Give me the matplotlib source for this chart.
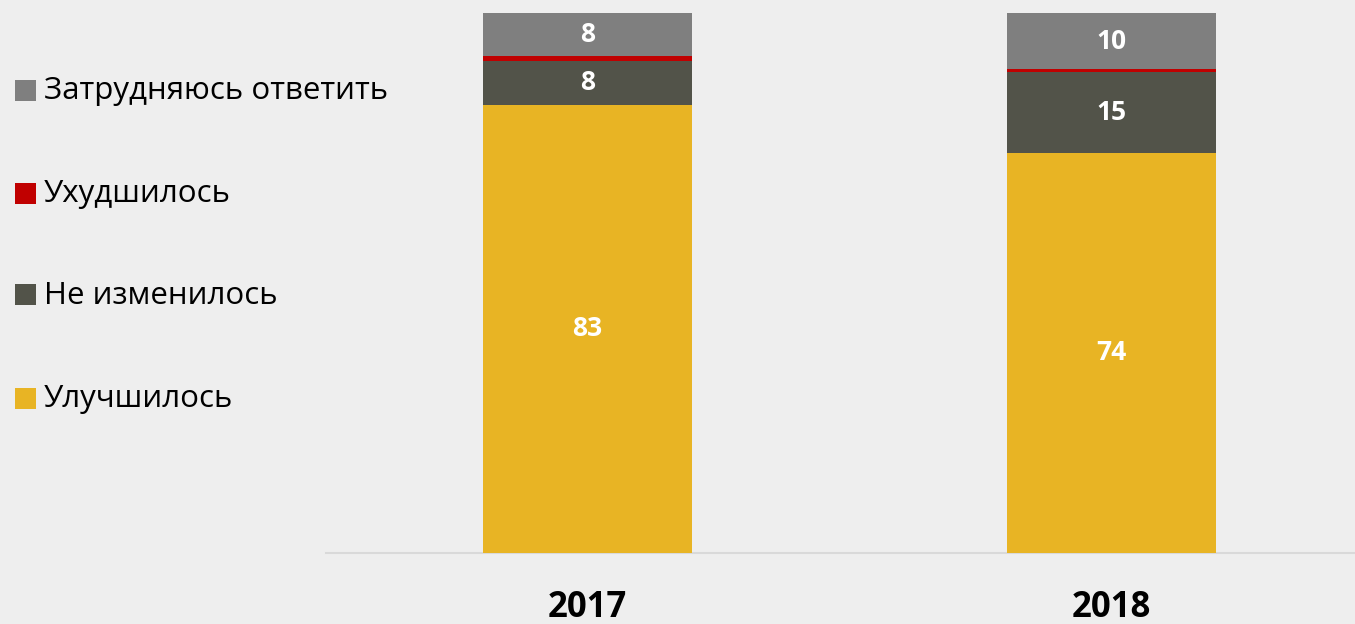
import matplotlib
matplotlib.use("Agg")
import matplotlib.pyplot as plt
from matplotlib.patches import Rectangle

years = ["2017", "2018"]
series_names = ["Улучшилось", "Не изменилось", "Ухудшилось", "Затрудняюсь ответить"]
improved = [83, 74]
unchanged = [8, 15]
worse = [1, 0.5]
hard_to_say = [8, 10.4]
show_label = [True, True, False, True]
colors = ["#e8b424", "#525349", "#c00000", "#7f7f7f"]

plt.rcParams["font.family"] = ["Open Sans", "DejaVu Sans"]

W, H = 1355, 624
fig = plt.figure(figsize=(W / 100, H / 100), dpi=100, facecolor="#eeeeee")

# axes placement in pixels
ax_left, ax_right = 325.5, 1355
y_top, y_bot = 12.7, 552.7
ax = fig.add_axes([ax_left / W, 1 - y_bot / H, (ax_right - ax_left) / W, (y_bot - y_top) / H])
ax.set_facecolor("none")

x = [0, 1]
series = [improved, unchanged, worse, hard_to_say]
bottoms = [0.0, 0.0]
for vals, col, lab in zip(series, colors, show_label):
    ax.bar(x, vals, bottom=bottoms, width=0.399, color=col, edgecolor="none", zorder=3)
    if lab:
        for xi, v, b in zip(x, vals, bottoms):
            ax.text(xi, b + v / 2, f"{v:.0f}", ha="center", va="center", color="white",
                    fontsize=19, fontweight="bold", zorder=4)
    bottoms = [b + v for b, v in zip(bottoms, vals)]

ax.set_xlim(-0.5, (ax_right - ax_left) / 524 - 0.5)
ax.set_ylim(0, 100)
for s in ["top", "right", "left"]:
    ax.spines[s].set_visible(False)
ax.spines["bottom"].set_color("#d9d9d9")
ax.spines["bottom"].set_linewidth(1.5)
ax.set_yticks([])
ax.set_xticks(x)
ax.set_xticklabels(years, fontsize=25, fontweight="bold", color="black")
ax.tick_params(axis="x", length=0, pad=27)

# legend (top to bottom: reversed series order)
row_y = [90, 193, 295, 398]
for name, col, yc in zip(series_names[::-1], colors[::-1], row_y):
    fig.patches.append(Rectangle((15 / W, 1 - (yc + 10.5) / H), 21 / W, 21 / H,
                                 transform=fig.transFigure, facecolor=col, edgecolor="none"))
    fig.text(44 / W, 1 - (yc + 1) / H, name, fontsize=22.5, va="center", ha="left", color="black")

fig.savefig("out.png", dpi=100, facecolor=fig.get_facecolor())
